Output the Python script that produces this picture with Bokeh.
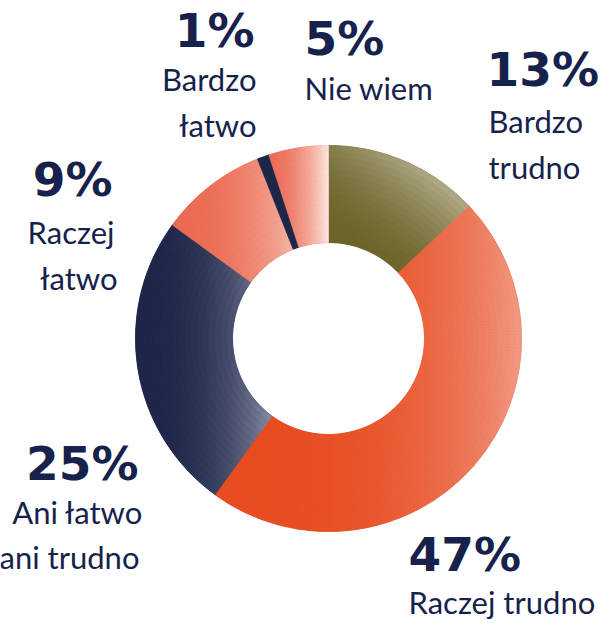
import numpy as np
from bokeh.plotting import figure
from bokeh.models import ColumnDataSource, Range1d
from bokeh.core.properties import value
from bokeh.embed import file_html
from bokeh.resources import INLINE

# ---------------- data ----------------
categories = ["Bardzo trudno", "Raczej trudno", "Ani łatwo ani trudno",
              "Raczej łatwo", "Bardzo łatwo", "Nie wiem"]
values = [13, 47, 25, 9, 1, 5]
pct_labels = ["13%", "47%", "25%", "9%", "1%", "5%"]
label_lines = [["Bardzo", "trudno"], ["Raczej trudno"], ["Ani łatwo", "ani trudno"],
               ["Raczej", "łatwo"], ["Bardzo", "łatwo"], ["Nie wiem"]]

# ---------------- style ----------------
base_colors = ["#6b6328", "#e84d22", "#1e2649", "#ea6a52", "#1e2649", "#ec6d58"]
light_colors = ["#b3ab8a", "#f19a84", "#8a90a6", "#f6b6a6", "#1e2649", "#fde6df"]
grad_dir_deg = [50, 0, 0, 0, 0, 0]
grad_power = [2.0, 3.0, 2.5, 2.2, 1.0, 1.8]
TEXT = "#16224b"
PCT_FONT, LBL_FONT = "DejaVu Sans", "Lato"
PCT_SIZE, LBL_SIZE = 47, 31
PCT_DY, LBL_DY = 18, 13  # baseline compensation

# ---------------- layout (pixels relative to ring centre, y up) ----------------
pct_pos = [(158, 251, "left"), (80, -234, "left"), (-190, -143, "right"),
           (-216, 141, "right"), (-74, 290, "right"), (-24, 282, "left")]
line_pos = [[(160, 205), (160, 159)], [(80, -276)], [(-185, -186), (-189, -231)],
            [(-214, 94), (-211, 48)], [(-72, 247), (-72, 201)], [(-24, 238)]]
R_OUT, R_IN = 193, 96
W, H = 600, 624
CX, CY = 328, 338  # ring centre in figure pixels (from top-left)

p = figure(width=W, height=H, output_backend="svg", toolbar_location=None,
           x_range=Range1d(-CX, W - CX), y_range=Range1d(-(H - CY), CY),
           x_axis_type=None, y_axis_type=None, min_border=0,
           outline_line_color=None, background_fill_color="white",
           border_fill_color="white")
p.grid.visible = False

# slice angles (clockwise from 12 o'clock)
total = float(sum(values))
ends_cw = np.cumsum(values) / total * 2 * np.pi
starts_cw = ends_cw - np.array(values) / total * 2 * np.pi

base_src = ColumnDataSource(dict(
    cat=categories,
    start=np.pi / 2 - ends_cw,
    end=np.pi / 2 - starts_cw,
    color=base_colors,
))
p.annular_wedge(x=0, y=0, inner_radius=R_IN, outer_radius=R_OUT,
                start_angle="start", end_angle="end", fill_color="color",
                line_color="color", line_width=0.5, source=base_src)


def hex2rgb(h):
    h = h.lstrip("#")
    return np.array([int(h[i:i + 2], 16) for i in (0, 2, 4)], dtype=float)


# gradient shading: subdivide each slice into small cells
st_s, en_s, ri_s, ro_s, col_s = [], [], [], [], []
NR = 16
for i in range(len(values)):
    a0, a1 = starts_cw[i], ends_cw[i]
    na = max(2, int(np.degrees(a1 - a0) / 1.0))
    aa = np.linspace(a0, a1, na + 1)
    rr = np.linspace(R_IN, R_OUT, NR + 1)
    phi = np.radians(grad_dir_deg[i])
    A, RR = np.meshgrid(aa, rr)
    proj = RR * np.sin(A) * np.cos(phi) + RR * np.cos(A) * np.sin(phi)
    pmin, pmax = proj.min(), proj.max()
    c0, c1 = hex2rgb(base_colors[i]), hex2rgb(light_colors[i])
    for j in range(na):
        am = 0.5 * (aa[j] + aa[j + 1])
        for k in range(NR):
            rm = 0.5 * (rr[k] + rr[k + 1])
            pr = rm * np.sin(am) * np.cos(phi) + rm * np.cos(am) * np.sin(phi)
            t = (pr - pmin) / (pmax - pmin) if pmax > pmin else 0
            t = min(max(t, 0), 1) ** grad_power[i]
            c = c0 + (c1 - c0) * t
            col_s.append("#%02x%02x%02x" % tuple(int(round(v)) for v in c))
            st_s.append(np.pi / 2 - aa[j + 1])
            en_s.append(np.pi / 2 - aa[j])
            ri_s.append(rr[k])
            ro_s.append(rr[k + 1])

grad_src = ColumnDataSource(dict(start=st_s, end=en_s, ri=ri_s, ro=ro_s, color=col_s))
p.annular_wedge(x=0, y=0, inner_radius="ri", outer_radius="ro",
                start_angle="start", end_angle="end", fill_color="color",
                line_color="color", line_width=0.6, source=grad_src)

# labels
for i in range(len(values)):
    ax, ay, al = pct_pos[i]
    p.text(x=[ax], y=[ay + PCT_DY], text=[pct_labels[i]], text_font=value(PCT_FONT),
           text_font_style="bold", text_font_size=f"{PCT_SIZE}px", text_color=TEXT,
           text_align=al, text_baseline="alphabetic")
    for (lx, ly), line in zip(line_pos[i], label_lines[i]):
        p.text(x=[lx], y=[ly + LBL_DY], text=[line], text_font=value(LBL_FONT),
               text_font_size=f"{LBL_SIZE}px", text_color=TEXT, text_align=al,
               text_baseline="alphabetic")

open("out.html", "w").write(file_html(p, INLINE))
